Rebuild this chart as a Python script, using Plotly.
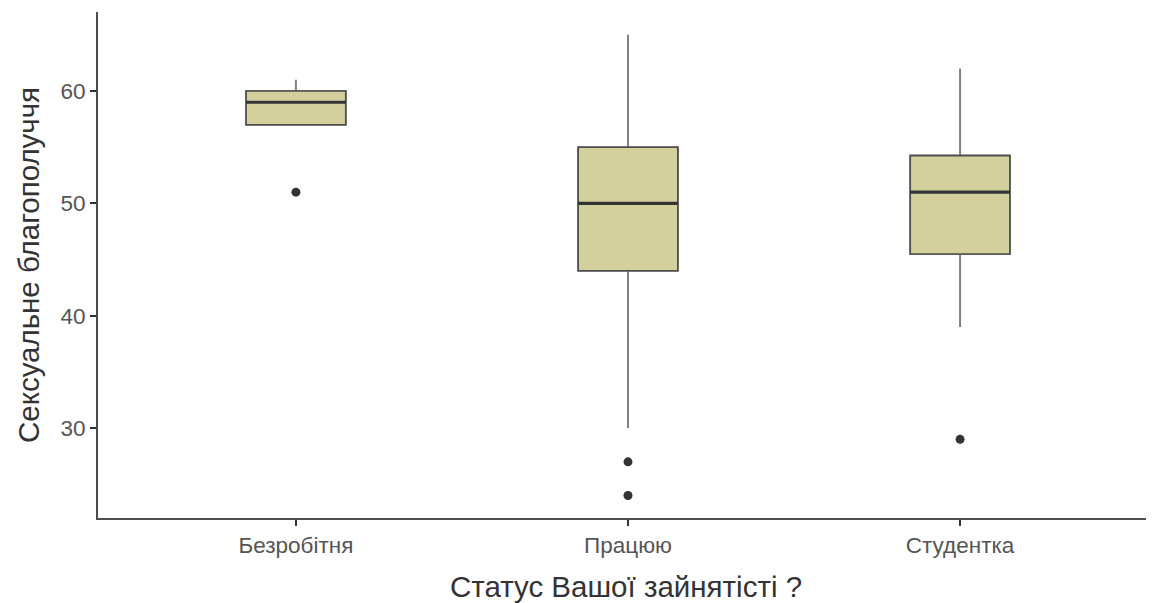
import plotly.graph_objects as go

categories = ["Безробітня", "Працюю", "Студентка"]
q1 = [57, 44, 45.5]
median = [59, 50, 51]
q3 = [60, 55, 54.25]
lowerfence = [57, 30, 39]
upperfence = [61, 65, 62]
outlier_cat = [0, 1, 1, 2]
outlier_val = [51, 27, 24, 29]

xpos = list(range(len(categories)))
box_w = 0.3

fig = go.Figure()
# whiskers (lighter) drawn as a box layer
fig.add_trace(go.Box(
    x=xpos, q1=q1, median=median, q3=q3,
    lowerfence=lowerfence, upperfence=upperfence,
    width=box_w, fillcolor="#D4D09E",
    line=dict(color="#808080", width=2),
    whiskerwidth=0, boxpoints=False, showlegend=False, hoverinfo="skip",
))
# box outline (darker), covering box parts
fig.add_trace(go.Box(
    x=xpos, q1=q1, median=median, q3=q3,
    lowerfence=q1, upperfence=q3,
    width=box_w, fillcolor="#D4D09E",
    line=dict(color="#4d4d4d", width=1.6),
    whiskerwidth=0, boxpoints=False, showlegend=False,
))
# thick median lines
mx, my = [], []
for i, m in zip(xpos, median):
    mx += [i - box_w / 2, i + box_w / 2, None]
    my += [m, m, None]
fig.add_trace(go.Scatter(x=mx, y=my, mode="lines",
                         line=dict(color="#333333", width=3.2),
                         showlegend=False, hoverinfo="skip"))
fig.add_trace(go.Scatter(x=outlier_cat, y=outlier_val, mode="markers",
                         marker=dict(color="#333333", size=9),
                         showlegend=False))

# page body has an 8px default margin: figure spans 8..1154 x 8..603
fig.update_layout(
    width=1146, height=595,
    margin=dict(l=90, r=0, t=4, b=85),
    plot_bgcolor="white", paper_bgcolor="white",
    font=dict(family="Liberation Sans, Arial, sans-serif", color="#4d4d4d"),
    boxmode="overlay",
    xaxis=dict(
        range=[-0.596, 2.584], tickvals=xpos, ticktext=categories,
        showgrid=False, zeroline=False,
        showline=True, linecolor="#4d4d4d", linewidth=1.8,
        ticks="outside", ticklen=6, tickcolor="#333333", tickwidth=1.8,
        tickfont=dict(size=22.5, color="#555555"),
        title=dict(text="Статус Вашої зайнятісті ?", font=dict(size=29.5, color="#333333"), standoff=20),
    ),
    yaxis=dict(
        range=[22, 67.03], tickvals=[30, 40, 50, 60],
        showgrid=False, zeroline=False,
        showline=True, linecolor="#4d4d4d", linewidth=1.8,
        ticks="outside", ticklen=6, tickcolor="#333333", tickwidth=1.8,
        tickfont=dict(size=22.5, color="#555555"),
        title=dict(text="Сексуальне благополуччя", font=dict(size=29.5, color="#333333"), standoff=12),
    ),
)

fig.write_html("out.html")
